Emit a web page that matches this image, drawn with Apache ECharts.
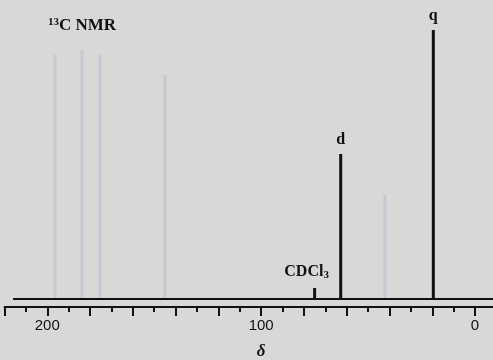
<!DOCTYPE html>
<html><head><meta charset="utf-8">
<script src="https://cdn.jsdelivr.net/npm/echarts@6/dist/echarts.min.js"></script>
<style>html,body{margin:0;padding:0;background:#d8d9d6;}#c{width:493px;height:360px;}</style>
</head><body><div id="c"></div>
<script>
// Chemical shifts (ppm) and relative intensities
const peakShifts = [75, 62.8, 19.5];
const peakHeights = [11, 145, 269];
const peakLabels = ['CDCl3', 'd', 'q'];
// faint bleed-through lines from the reverse page
const ghostShifts = [196.4, 183.8, 175.4, 145, 42.1];
const ghostHeights = [244, 249, 244, 224, 104];
const tickLabels = [0, 100, 200];

const chart = echarts.init(document.getElementById('c'));
const serif = 'Liberation Serif';
const peakData = peakShifts.map((s, i) => ({
  value: [s, peakHeights[i]],
  label: peakLabels[i] === 'CDCl3'
    ? { show: true, position: 'top', offset: [-8, -2], formatter: 'CDCl{sub|3}',
        rich: { sub: { fontSize: 11, fontFamily: serif, color: '#111', padding: [8, 0, 0, 0] } } }
    : { show: true, position: 'top', offset: [0, -1], formatter: peakLabels[i] }
}));
const ghostData = ghostShifts.map((s, i) => [s, ghostHeights[i]]);

chart.setOption({
  backgroundColor: '#d8d9d6',
  animation: false,
  title: {
    text: '{sup|13}C NMR', left: 43, top: 12,
    textStyle: { fontFamily: serif, fontWeight: 'bold', fontSize: 17, color: '#111',
      rich: { sup: { fontFamily: serif, fontSize: 11, fontWeight: 'bold', color: '#111', padding: [0, 0, 7, 0] } } }
  },
  grid: { left: 4.5, width: 513.3, top: 10, height: 297, containLabel: false, outerBoundsMode: 'none' },
  xAxis: {
    type: 'value', inverse: true, min: -20, max: 220, interval: 20,
    name: 'δ', nameLocation: 'middle', nameGap: 36,
    nameTextStyle: { fontFamily: serif, fontStyle: 'italic', fontWeight: 'bold', fontSize: 17, color: '#111' },
    axisLine: { onZero: false, lineStyle: { color: '#111', width: 2 } },
    axisTick: { show: true, length: 9, lineStyle: { color: '#111', width: 2 } },
    minorTick: { show: true, splitNumber: 2, length: 5, lineStyle: { color: '#111', width: 2 } },
    splitLine: { show: false },
    axisLabel: {
      margin: 11, fontFamily: 'Liberation Sans', fontSize: 15, color: '#111',
      formatter: v => tickLabels.indexOf(v) >= 0 ? String(v) : ''
    }
  },
  yAxis: { type: 'value', min: -8, max: 289, show: false },
  series: [
    {
      type: 'bar', data: ghostData, barWidth: 3, silent: true,
      itemStyle: { color: 'rgba(170,185,205,0.45)' }
    },
    {
      type: 'line', symbol: 'none', silent: true,
      data: [[216, 0], [-10, 0]],
      lineStyle: { color: '#111', width: 2 }
    },
    {
      type: 'bar', data: peakData, barWidth: 3, barGap: '-100%',
      itemStyle: { color: '#111' },
      label: { fontFamily: serif, fontWeight: 'bold', fontSize: 16, color: '#111' }
    }
  ]
});
</script></body></html>
